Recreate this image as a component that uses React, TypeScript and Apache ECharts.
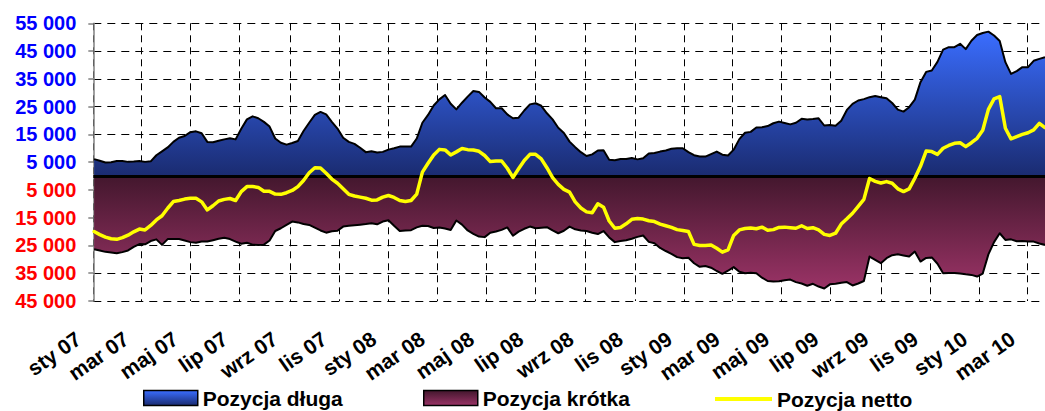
import React, { useEffect, useRef } from 'react';
import * as echarts from 'echarts';

// weekly observations (Tuesdays) starting on firstWeek
const firstWeek = '2007-01-02';
const axisStart = '2007-01-01';
const axisEnd = '2010-03-23';

const tickDates = [
  '2007-01-01', '2007-03-01', '2007-05-01', '2007-07-01', '2007-09-01', '2007-11-01',
  '2008-01-01', '2008-03-01', '2008-05-01', '2008-07-01', '2008-09-01', '2008-11-01',
  '2009-01-01', '2009-03-01', '2009-05-01', '2009-07-01', '2009-09-01', '2009-11-01',
  '2010-01-01', '2010-03-01',
];
const tickLabels = [
  'sty 07', 'mar 07', 'maj 07', 'lip 07', 'wrz 07', 'lis 07',
  'sty 08', 'mar 08', 'maj 08', 'lip 08', 'wrz 08', 'lis 08',
  'sty 09', 'mar 09', 'maj 09', 'lip 09', 'wrz 09', 'lis 09',
  'sty 10', 'mar 10',
];

const longPos = [
  6100, 5500, 4900, 5000, 5400, 5400, 5100, 5200, 5400, 5100,
  5300, 7500, 8900, 10300, 12300, 13800, 14400, 15800, 16100, 15400,
  12300, 12200, 12700, 13200, 13600, 13200, 17000, 20400, 21500, 20800,
  19500, 17800, 13500, 12000, 11300, 11900, 12600, 16200, 19200, 22000,
  23100, 22200, 19500, 17100, 13800, 12300, 11600, 10200, 8600, 8900,
  8500, 8700, 9500, 10000, 10600, 10600, 10600, 13500, 19200, 22000,
  25400, 27600, 29200, 26000, 24000, 26400, 28600, 30600, 30300, 28300,
  26700, 24400, 24400, 22200, 20800, 21000, 23600, 25800, 26200, 25300,
  22600, 20400, 17400, 15500, 12400, 10400, 8600, 7200, 7800, 9200,
  9300, 5900, 5700, 6100, 6100, 6500, 6000, 6400, 8100, 8300,
  8800, 9200, 9800, 10000, 10000, 8600, 7500, 7000, 7000, 7900,
  8800, 7700, 7400, 9500, 13300, 15600, 15900, 17500, 17600, 18000,
  19000, 19600, 19100, 18600, 19200, 20600, 20400, 20500, 20800, 18200,
  18400, 18100, 19900, 23800, 26000, 27200, 27700, 28400, 28800, 28400,
  28000, 26300, 23900, 23200, 24800, 27500, 33800, 37500, 38000, 41100,
  45500, 46400, 46400, 47600, 45700, 48700, 50800, 51500, 52000, 50600,
  48600, 41000, 36800, 37800, 39200, 39200, 41500, 42200, 42800,
];

const shortPos = [
  -26400, -26800, -27300, -27500, -27800, -27400, -26800, -25500, -24500, -24600,
  -23400, -22800, -24800, -22700, -22700, -22700, -23200, -23800, -24000, -23600,
  -23600, -23100, -22600, -22200, -22700, -23600, -24400, -24000, -24700, -24800,
  -24700, -23200, -19800, -18800, -17600, -16400, -16700, -17300, -17600, -18600,
  -19600, -20400, -19900, -19700, -18200, -17900, -17700, -17500, -17300, -17000,
  -17400, -16400, -15900, -17900, -19800, -19600, -19500, -18500, -17900, -18000,
  -18700, -18500, -18900, -19400, -16000, -17500, -19600, -20800, -21800, -22000,
  -20400, -20000, -19400, -18500, -21500, -20000, -19000, -18200, -18800, -18600,
  -18400, -19600, -20600, -19700, -18200, -19200, -19600, -19800, -20400, -20900,
  -19800, -22100, -23800, -23400, -23100, -22600, -21900, -21400, -23700, -24200,
  -25900, -27000, -28000, -29200, -29600, -29400, -31400, -32700, -32400, -33000,
  -34200, -35200, -34100, -32800, -34500, -35000, -34800, -35000, -36600, -37800,
  -38000, -37900, -37500, -37300, -38200, -38700, -39500, -38800, -39800, -40500,
  -39000, -38800, -38400, -38200, -39400, -38700, -37800, -29000, -30200, -31400,
  -29600, -28500, -28200, -28600, -29000, -27200, -30800, -29500, -29300, -31600,
  -35000, -34900, -34900, -35100, -35400, -35600, -36200, -35100, -28200, -23800,
  -20600, -23000, -22800, -23500, -23400, -23600, -23600, -24300, -24800,
];

const netPos = [
  -20000, -21100, -22000, -22600, -22800, -22200, -21300, -20100, -19100, -19400,
  -17800, -15800, -14300, -11600, -9200, -8800, -8300, -8000, -8000, -9300,
  -12200, -10700, -9000, -8400, -8100, -8800, -5600, -3800, -3800, -4100,
  -5500, -5500, -6500, -6600, -6000, -5200, -3800, -1600, 1200, 3000,
  2900, 1000, -1100, -2600, -4600, -6600, -7200, -7600, -8000, -8700,
  -8600, -7600, -7000, -7700, -8800, -9200, -8800, -6500, 1400, 4600,
  7600, 9600, 9400, 7600, 8700, 9900, 9500, 9400, 8900, 7400,
  5200, 5400, 5400, 2800, -500, 2600, 5600, 7800, 7800, 6200,
  3000, -600, -3000, -4800, -5800, -9300, -11500, -12900, -13200, -10000,
  -11200, -16200, -18800, -18500, -17200, -15600, -15300, -15500, -16100, -16400,
  -17300, -17900, -18500, -19300, -19600, -20000, -24600, -25000, -25000, -24800,
  -26000, -27400, -26600, -21400, -19400, -18900, -18700, -19000, -18400, -19500,
  -19300, -18500, -18400, -18600, -18800, -17900, -18900, -18600, -19400, -21000,
  -21400, -20600, -17300, -15400, -13400, -10900, -8400, -900, -1900, -2500,
  -2000, -2600, -4600, -5600, -4600, -800, 3500, 9000, 8800, 7800,
  10000, 11000, 11800, 12000, 10600, 12000, 13600, 16500, 24000, 27800,
  28600, 17200, 13400, 14200, 15000, 15600, 16600, 19000, 17400,
];

const FONT = '"Liberation Sans", Arial, sans-serif';

function buildDays(): string[] {
  const out: string[] = [];
  const dayMs = 86400000;
  const s = Date.parse(axisStart + 'T00:00:00Z');
  const e = Date.parse(axisEnd + 'T00:00:00Z');
  for (let t = s; t <= e; t += dayMs) out.push(new Date(t).toISOString().slice(0, 10));
  return out;
}

function fmtThousands(v: number): string {
  return String(Math.abs(v)).replace(/\B(?=(\d{3})+(?!\d))/g, ' ');
}

export default function App() {
  const ref = useRef<HTMLDivElement>(null);

  useEffect(() => {
    if (!ref.current) return;
    const chart = echarts.init(ref.current, null, { renderer: 'svg' });
    const days = buildDays();
    const first = days.indexOf(firstWeek);
    const toPairs = (vals: number[]) => vals.map((v, k) => [days[first + 7 * k], v]);
    const tickSet = new Set(tickDates);
    const labelOf: Record<string, string> = {};
    tickDates.forEach((d, i) => (labelOf[d] = tickLabels[i]));
    const isTick = (_i: number, v: string) => tickSet.has(v);

    const longGrad = () =>
      new echarts.graphic.LinearGradient(0, 0, 0, 1, [
        { offset: 0, color: '#3a6dff' },
        { offset: 1, color: '#1a2b70' },
      ]);
    const shortGrad = () =>
      new echarts.graphic.LinearGradient(0, 0, 0, 1, [
        { offset: 0, color: '#43172d' },
        { offset: 1, color: '#9a3366' },
      ]);

    const legendText = {
      fontFamily: FONT,
      fontSize: 21,
      fontWeight: 'bold' as const,
      color: '#000',
    };

    chart.setOption({
      animation: false,
      backgroundColor: '#fff',
      grid: { left: 93.3, top: 23.3, width: 953.8, height: 277.7, containLabel: false },
      legend: [
        {
          left: 138, top: 382.5, itemWidth: 54, itemHeight: 15, itemGap: 0, selectedMode: false,
          textStyle: legendText,
          data: [{ name: 'Pozycja długa', icon: 'rect', itemStyle: { color: longGrad(), borderColor: '#000', borderWidth: 1.5 } }],
        },
        {
          left: 418, top: 382.5, itemWidth: 54, itemHeight: 15, itemGap: 0, selectedMode: false,
          textStyle: legendText,
          data: [{ name: 'Pozycja krótka', icon: 'rect', itemStyle: { color: shortGrad(), borderColor: '#000', borderWidth: 1.5 } }],
        },
        {
          left: 710, top: 383.5, itemWidth: 57, itemHeight: 4, itemGap: 0, selectedMode: false,
          textStyle: legendText,
          data: [{ name: 'Pozycja netto', icon: 'rect', itemStyle: { color: '#ffff00', borderWidth: 0 } }],
        },
      ],
      xAxis: {
        type: 'category',
        data: days,
        boundaryGap: false,
        axisLine: { show: false },
        axisTick: { show: false },
        axisLabel: {
          interval: isTick,
          formatter: (v: string) => labelOf[v] || '',
          rotate: 35,
          margin: 25,
          padding: [0, 18, 0, 0],
          fontFamily: FONT,
          fontSize: 21,
          fontWeight: 'bold',
          color: '#000',
        },
        splitLine: {
          show: true,
          interval: isTick,
          lineStyle: { color: '#000', width: 1, type: [7, 5] },
        },
      },
      yAxis: {
        type: 'value',
        min: -45000,
        max: 55000,
        interval: 10000,
        axisLine: { show: true, lineStyle: { color: '#808080', width: 1.5 } },
        axisTick: { show: true, length: 5, lineStyle: { color: '#808080', width: 1.5 } },
        axisLabel: {
          margin: 17,
          fontFamily: FONT,
          fontSize: 20,
          fontWeight: 'bold',
          formatter: (v: number) => fmtThousands(Number(v)),
          color: (v: any) => (Number(v) > 0 ? '#0000ff' : '#ff0000'),
        },
        splitLine: { show: true, lineStyle: { color: '#000', width: 1, type: [8, 6] } },
      },
      series: [
        {
          name: 'Pozycja długa',
          type: 'line',
          data: toPairs(longPos),
          symbol: 'none',
          lineStyle: { color: '#000', width: 2, join: 'round' },
          itemStyle: { color: '#2d55d8' },
          areaStyle: { color: longGrad(), opacity: 1 },
          z: 2,
        },
        {
          name: 'Pozycja krótka',
          type: 'line',
          data: toPairs(shortPos),
          symbol: 'none',
          lineStyle: { color: '#000', width: 2, join: 'round' },
          itemStyle: { color: '#7a2a55' },
          areaStyle: { color: shortGrad(), opacity: 1 },
          z: 2,
          markLine: {
            silent: true,
            symbol: ['none', 'none'],
            label: { show: false },
            z: 3,
            lineStyle: { color: '#000', width: 3, type: 'solid' },
            data: [{ yAxis: 0 }],
          },
        },
        {
          name: 'Pozycja netto',
          type: 'line',
          data: toPairs(netPos),
          symbol: 'none',
          lineStyle: { color: '#ffff00', width: 3.5, join: 'round', cap: 'round' },
          itemStyle: { color: '#ffff00' },
          z: 4,
        },
      ],
    });
    return () => chart.dispose();
  }, []);

  return (
    <div
      ref={ref}
      style={{ position: 'fixed', left: 0, top: 0, width: 1045, height: 411, background: '#fff' }}
    />
  );
}
